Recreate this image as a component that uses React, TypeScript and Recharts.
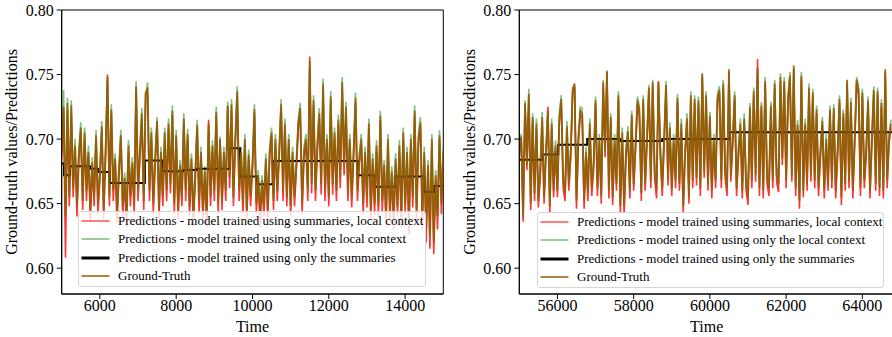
import React from 'react';
import { LineChart, Line, XAxis, YAxis, Legend, ReferenceArea } from 'recharts';

const FONT = '"Liberation Serif", "Times New Roman", Times, serif';

// ---------- data ----------
const LEFT_START = 5000;
const RIGHT_START = 55000;
const TIME_STEP = 50;

const leftGroundTruth = [
  0.690, 0.725, 0.640, 0.728, 0.655, 0.726, 0.662, 0.695, 0.648, 0.688,
  0.709, 0.652, 0.705, 0.660, 0.690, 0.645, 0.682, 0.655, 0.703, 0.650,
  0.672, 0.710, 0.645, 0.690, 0.748, 0.655, 0.723, 0.660, 0.685, 0.642,
  0.675, 0.703, 0.648, 0.670, 0.640, 0.695, 0.655, 0.682, 0.650, 0.741,
  0.660, 0.690, 0.720, 0.652, 0.735, 0.740, 0.660, 0.705, 0.650, 0.685,
  0.713, 0.645, 0.690, 0.655, 0.705, 0.660, 0.712, 0.665, 0.722, 0.650,
  0.703, 0.645, 0.680, 0.655, 0.716, 0.660, 0.704, 0.648, 0.685, 0.640,
  0.672, 0.711, 0.650, 0.690, 0.645, 0.675, 0.640, 0.712, 0.655, 0.695,
  0.660, 0.721, 0.650, 0.698, 0.652, 0.690, 0.660, 0.725, 0.670, 0.727,
  0.655, 0.700, 0.737, 0.660, 0.690, 0.650, 0.700, 0.645, 0.688, 0.655,
  0.680, 0.723, 0.650, 0.672, 0.640, 0.668, 0.648, 0.685, 0.645, 0.690,
  0.705, 0.652, 0.700, 0.660, 0.690, 0.727, 0.660, 0.712, 0.655, 0.700,
  0.648, 0.690, 0.655, 0.680, 0.712, 0.724, 0.650, 0.690, 0.700, 0.660,
  0.760, 0.665, 0.730, 0.660, 0.695, 0.720, 0.665, 0.743, 0.660, 0.700,
  0.655, 0.733, 0.665, 0.705, 0.660, 0.715, 0.670, 0.744, 0.680, 0.725,
  0.660, 0.700, 0.655, 0.690, 0.732, 0.660, 0.685, 0.700, 0.650, 0.690,
  0.655, 0.712, 0.645, 0.685, 0.650, 0.695, 0.648, 0.718, 0.652, 0.680,
  0.640, 0.700, 0.645, 0.675, 0.638, 0.685, 0.648, 0.695, 0.640, 0.705,
  0.650, 0.690, 0.635, 0.700, 0.655, 0.722, 0.645, 0.700, 0.713, 0.640,
  0.690, 0.630, 0.680, 0.625, 0.700, 0.620, 0.672, 0.640, 0.703, 0.650,
  0.690,
];

const leftSummariesLocal = [
  0.686, 0.720, 0.608, 0.722, 0.648, 0.720, 0.655, 0.692, 0.640, 0.684,
  0.705, 0.645, 0.700, 0.652, 0.688, 0.636, 0.678, 0.648, 0.700, 0.642,
  0.668, 0.706, 0.638, 0.686, 0.750, 0.648, 0.720, 0.652, 0.682, 0.635,
  0.670, 0.700, 0.640, 0.666, 0.632, 0.690, 0.648, 0.678, 0.642, 0.738,
  0.652, 0.686, 0.716, 0.645, 0.736, 0.735, 0.652, 0.700, 0.642, 0.680,
  0.714, 0.638, 0.686, 0.648, 0.700, 0.652, 0.708, 0.658, 0.718, 0.642,
  0.700, 0.638, 0.676, 0.648, 0.712, 0.652, 0.700, 0.640, 0.680, 0.632,
  0.668, 0.708, 0.642, 0.686, 0.638, 0.670, 0.632, 0.715, 0.648, 0.690,
  0.652, 0.718, 0.642, 0.700, 0.645, 0.686, 0.652, 0.726, 0.662, 0.722,
  0.648, 0.696, 0.733, 0.652, 0.686, 0.642, 0.696, 0.637, 0.684, 0.648,
  0.676, 0.720, 0.642, 0.668, 0.632, 0.664, 0.640, 0.680, 0.637, 0.686,
  0.702, 0.645, 0.696, 0.652, 0.686, 0.724, 0.652, 0.708, 0.648, 0.696,
  0.640, 0.686, 0.648, 0.676, 0.708, 0.720, 0.642, 0.686, 0.696, 0.652,
  0.764, 0.658, 0.726, 0.652, 0.690, 0.716, 0.657, 0.738, 0.652, 0.696,
  0.648, 0.730, 0.657, 0.700, 0.652, 0.712, 0.662, 0.740, 0.672, 0.720,
  0.652, 0.696, 0.647, 0.686, 0.728, 0.652, 0.680, 0.696, 0.642, 0.686,
  0.647, 0.708, 0.637, 0.680, 0.642, 0.690, 0.640, 0.714, 0.644, 0.676,
  0.632, 0.696, 0.637, 0.670, 0.630, 0.680, 0.640, 0.690, 0.632, 0.700,
  0.642, 0.686, 0.626, 0.696, 0.647, 0.718, 0.636, 0.696, 0.710, 0.630,
  0.686, 0.620, 0.676, 0.615, 0.696, 0.611, 0.668, 0.630, 0.700, 0.642,
  0.686,
];

const leftLocalOnly = [
  0.694, 0.738, 0.650, 0.732, 0.660, 0.730, 0.668, 0.700, 0.654, 0.692,
  0.713, 0.658, 0.709, 0.665, 0.695, 0.650, 0.686, 0.660, 0.707, 0.656,
  0.676, 0.714, 0.650, 0.694, 0.746, 0.660, 0.727, 0.665, 0.689, 0.648,
  0.680, 0.707, 0.653, 0.674, 0.646, 0.699, 0.660, 0.686, 0.656, 0.745,
  0.665, 0.694, 0.724, 0.657, 0.732, 0.744, 0.665, 0.709, 0.655, 0.689,
  0.717, 0.650, 0.694, 0.660, 0.709, 0.665, 0.716, 0.670, 0.726, 0.655,
  0.707, 0.650, 0.684, 0.660, 0.720, 0.665, 0.708, 0.653, 0.689, 0.646,
  0.676, 0.715, 0.656, 0.694, 0.650, 0.679, 0.646, 0.710, 0.660, 0.699,
  0.665, 0.725, 0.655, 0.702, 0.657, 0.694, 0.665, 0.729, 0.675, 0.731,
  0.660, 0.704, 0.741, 0.665, 0.694, 0.656, 0.704, 0.650, 0.692, 0.660,
  0.684, 0.727, 0.656, 0.676, 0.645, 0.672, 0.653, 0.689, 0.650, 0.694,
  0.709, 0.657, 0.704, 0.665, 0.694, 0.731, 0.665, 0.716, 0.660, 0.704,
  0.653, 0.694, 0.660, 0.684, 0.716, 0.728, 0.656, 0.694, 0.704, 0.665,
  0.756, 0.670, 0.734, 0.665, 0.699, 0.724, 0.670, 0.747, 0.665, 0.704,
  0.660, 0.737, 0.670, 0.709, 0.665, 0.719, 0.675, 0.748, 0.685, 0.729,
  0.665, 0.704, 0.660, 0.694, 0.736, 0.665, 0.689, 0.704, 0.656, 0.694,
  0.660, 0.716, 0.650, 0.689, 0.656, 0.699, 0.653, 0.722, 0.657, 0.684,
  0.646, 0.704, 0.650, 0.679, 0.644, 0.689, 0.653, 0.699, 0.646, 0.709,
  0.655, 0.694, 0.641, 0.704, 0.660, 0.726, 0.650, 0.704, 0.717, 0.646,
  0.694, 0.636, 0.684, 0.631, 0.704, 0.626, 0.676, 0.646, 0.707, 0.656,
  0.694,
];

const leftSummariesStepTime = [5000, 5060, 5220, 5740, 5950, 6260, 7180, 7630, 8180, 8540, 9400, 9670, 10110, 10530, 12760, 13200, 13730, 14510, 14770, 15000];
const leftSummariesStepValue = [0.681, 0.672, 0.679, 0.677, 0.6745, 0.666, 0.6835, 0.675, 0.676, 0.677, 0.693, 0.671, 0.665, 0.683, 0.672, 0.663, 0.671, 0.659, 0.6636, 0.6636];

const rightGroundTruth = [
  0.690, 0.700, 0.640, 0.725, 0.680, 0.735, 0.650, 0.717, 0.658, 0.712,
  0.652, 0.675, 0.717, 0.655, 0.690, 0.722, 0.648, 0.712, 0.660, 0.695,
  0.660, 0.716, 0.731, 0.668, 0.658, 0.710, 0.665, 0.690, 0.739, 0.743,
  0.652, 0.700, 0.722, 0.720, 0.652, 0.690, 0.658, 0.712, 0.662, 0.680,
  0.730, 0.662, 0.700, 0.656, 0.744, 0.690, 0.753, 0.660, 0.717, 0.655,
  0.700, 0.665, 0.734, 0.648, 0.705, 0.648, 0.690, 0.706, 0.660, 0.719,
  0.665, 0.695, 0.730, 0.722, 0.658, 0.731, 0.665, 0.700, 0.740, 0.668,
  0.744, 0.675, 0.660, 0.744, 0.690, 0.662, 0.700, 0.742, 0.670, 0.709,
  0.662, 0.700, 0.668, 0.732, 0.665, 0.712, 0.648, 0.690, 0.716, 0.655,
  0.734, 0.668, 0.731, 0.670, 0.730, 0.662, 0.751, 0.675, 0.734, 0.665,
  0.718, 0.660, 0.700, 0.668, 0.732, 0.738, 0.668, 0.743, 0.675, 0.662,
  0.754, 0.672, 0.700, 0.734, 0.662, 0.690, 0.712, 0.660, 0.716, 0.665,
  0.655, 0.725, 0.668, 0.737, 0.672, 0.755, 0.662, 0.726, 0.660, 0.745,
  0.670, 0.662, 0.726, 0.668, 0.743, 0.672, 0.665, 0.748, 0.685, 0.745,
  0.668, 0.731, 0.749, 0.672, 0.757, 0.662, 0.711, 0.652, 0.749, 0.660,
  0.712, 0.665, 0.740, 0.672, 0.736, 0.668, 0.723, 0.662, 0.690, 0.714,
  0.660, 0.700, 0.665, 0.723, 0.668, 0.724, 0.660, 0.690, 0.731, 0.655,
  0.720, 0.665, 0.746, 0.668, 0.729, 0.660, 0.700, 0.746, 0.738, 0.662,
  0.736, 0.668, 0.690, 0.730, 0.660, 0.700, 0.738, 0.665, 0.737, 0.662,
  0.728, 0.660, 0.754, 0.668, 0.700, 0.712,
];

const rightSummariesLocal = [
  0.686, 0.702, 0.636, 0.728, 0.676, 0.730, 0.645, 0.714, 0.652, 0.708,
  0.647, 0.671, 0.713, 0.650, 0.686, 0.725, 0.643, 0.708, 0.655, 0.691,
  0.655, 0.712, 0.728, 0.662, 0.652, 0.706, 0.660, 0.686, 0.736, 0.740,
  0.646, 0.696, 0.719, 0.716, 0.646, 0.686, 0.652, 0.708, 0.656, 0.676,
  0.727, 0.656, 0.696, 0.650, 0.740, 0.686, 0.752, 0.654, 0.714, 0.649,
  0.696, 0.660, 0.731, 0.643, 0.701, 0.642, 0.686, 0.702, 0.654, 0.716,
  0.660, 0.691, 0.727, 0.718, 0.652, 0.728, 0.660, 0.696, 0.737, 0.662,
  0.741, 0.670, 0.654, 0.745, 0.686, 0.656, 0.696, 0.739, 0.664, 0.705,
  0.656, 0.696, 0.662, 0.729, 0.660, 0.708, 0.643, 0.686, 0.713, 0.650,
  0.731, 0.662, 0.728, 0.664, 0.727, 0.656, 0.749, 0.670, 0.731, 0.660,
  0.715, 0.654, 0.696, 0.662, 0.729, 0.735, 0.662, 0.740, 0.670, 0.656,
  0.752, 0.667, 0.696, 0.731, 0.656, 0.686, 0.708, 0.654, 0.713, 0.660,
  0.649, 0.722, 0.662, 0.734, 0.667, 0.762, 0.656, 0.723, 0.654, 0.742,
  0.665, 0.656, 0.723, 0.662, 0.740, 0.667, 0.659, 0.745, 0.680, 0.742,
  0.662, 0.728, 0.746, 0.667, 0.754, 0.656, 0.708, 0.646, 0.746, 0.655,
  0.709, 0.660, 0.737, 0.667, 0.733, 0.662, 0.720, 0.656, 0.686, 0.711,
  0.654, 0.696, 0.660, 0.720, 0.662, 0.721, 0.654, 0.686, 0.728, 0.649,
  0.717, 0.660, 0.743, 0.662, 0.726, 0.654, 0.696, 0.743, 0.735, 0.656,
  0.733, 0.662, 0.686, 0.727, 0.654, 0.696, 0.735, 0.660, 0.734, 0.656,
  0.725, 0.654, 0.752, 0.662, 0.696, 0.709,
];

const rightLocalOnly = [
  0.694, 0.704, 0.646, 0.730, 0.684, 0.739, 0.656, 0.720, 0.664, 0.716,
  0.658, 0.680, 0.721, 0.660, 0.694, 0.720, 0.654, 0.716, 0.665, 0.699,
  0.666, 0.720, 0.734, 0.673, 0.664, 0.714, 0.670, 0.694, 0.737, 0.741,
  0.658, 0.704, 0.725, 0.724, 0.658, 0.694, 0.664, 0.716, 0.668, 0.684,
  0.733, 0.668, 0.704, 0.662, 0.746, 0.694, 0.750, 0.666, 0.720, 0.661,
  0.704, 0.670, 0.737, 0.654, 0.709, 0.654, 0.694, 0.710, 0.666, 0.722,
  0.670, 0.699, 0.733, 0.725, 0.664, 0.734, 0.670, 0.704, 0.742, 0.674,
  0.746, 0.680, 0.666, 0.742, 0.694, 0.668, 0.704, 0.745, 0.676, 0.713,
  0.668, 0.704, 0.674, 0.735, 0.670, 0.716, 0.654, 0.694, 0.720, 0.661,
  0.737, 0.674, 0.734, 0.676, 0.733, 0.668, 0.748, 0.680, 0.737, 0.671,
  0.721, 0.666, 0.704, 0.674, 0.735, 0.741, 0.674, 0.746, 0.680, 0.668,
  0.750, 0.678, 0.704, 0.737, 0.668, 0.694, 0.716, 0.666, 0.720, 0.671,
  0.661, 0.728, 0.674, 0.740, 0.678, 0.752, 0.668, 0.729, 0.666, 0.748,
  0.676, 0.668, 0.729, 0.674, 0.746, 0.678, 0.671, 0.751, 0.690, 0.748,
  0.674, 0.734, 0.752, 0.678, 0.755, 0.668, 0.715, 0.658, 0.752, 0.666,
  0.716, 0.671, 0.743, 0.678, 0.739, 0.674, 0.726, 0.668, 0.694, 0.717,
  0.666, 0.704, 0.671, 0.726, 0.674, 0.727, 0.666, 0.694, 0.734, 0.661,
  0.723, 0.671, 0.744, 0.674, 0.732, 0.666, 0.704, 0.748, 0.741, 0.668,
  0.739, 0.674, 0.694, 0.733, 0.666, 0.704, 0.741, 0.671, 0.740, 0.668,
  0.731, 0.666, 0.751, 0.674, 0.704, 0.715,
];

const rightSummariesStepTime = [55000, 55620, 56020, 56780, 57640, 58750, 60530, 64830];
const rightSummariesStepValue = [0.684, 0.688, 0.6957, 0.700, 0.6985, 0.700, 0.7053, 0.7053];

const LEFT_X_TICKS = [6000, 8000, 10000, 12000, 14000];
const RIGHT_X_TICKS = [56000, 58000, 60000, 62000, 64000];
const Y_TICKS = [0.6, 0.65, 0.7, 0.75, 0.8];
const Y_DOMAIN: [number, number] = [0.58, 0.8];

const SERIES_LABELS = [
  'Predictions - model trained using summaries, local context',
  'Predictions - model trained using only the local context',
  'Predictions - model trained using only the summaries',
  'Ground-Truth',
];
const X_LABEL = 'Time';
const Y_LABEL = 'Ground-truth values/Predictions';

// ---------- styles ----------
const RED = '#ff0000';
const GREEN = '#008000';
const BROWN = '#965e05';
const LEGEND_STYLES = [
  { color: '#ff3333', opacity: 0.85, w: 1.5 },
  { color: '#4ca64c', opacity: 0.75, w: 1.5 },
  { color: '#000000', opacity: 1, w: 3 },
  { color: BROWN, opacity: 1, w: 1.5 },
];

function buildSeries(start: number, gt: number[], red: number[], green: number[]) {
  return gt.map((v, i) => ({ t: start + i * TIME_STEP, gt: v, red: red[i], green: green[i] }));
}
function buildStep(ts: number[], vs: number[]) {
  return ts.map((t, i) => ({ t, v: vs[i] }));
}

const leftData = buildSeries(LEFT_START, leftGroundTruth, leftSummariesLocal, leftLocalOnly);
const rightData = buildSeries(RIGHT_START, rightGroundTruth, rightSummariesLocal, rightLocalOnly);
const leftStep = buildStep(leftSummariesStepTime, leftSummariesStepValue);
const rightStep = buildStep(rightSummariesStepTime, rightSummariesStepValue);

const ROW_Y = [10, 28, 47, 65];

const LegendBox = () => (
  <div
    style={{
      width: '100%',
      height: '100%',
      boxSizing: 'border-box',
      background: 'rgba(255,255,255,0.8)',
      border: '1px solid #d6d6d6',
      borderRadius: 3,
      position: 'relative',
      fontFamily: FONT,
      fontSize: 13,
      color: '#000',
    }}
  >
    <svg width={36} height={76} style={{ position: 'absolute', left: 0, top: -1 }}>
      {SERIES_LABELS.map((_, k) => (
        <line
          key={k}
          x1={2.5}
          x2={30.5}
          y1={ROW_Y[k]}
          y2={ROW_Y[k]}
          stroke={LEGEND_STYLES[k].color}
          strokeOpacity={LEGEND_STYLES[k].opacity}
          strokeWidth={LEGEND_STYLES[k].w}
        />
      ))}
    </svg>
    {SERIES_LABELS.map((label, k) => (
      <div
        key={k}
        style={{
          position: 'absolute',
          left: 39,
          top: ROW_Y[k] - 10,
          height: 18,
          lineHeight: '18px',
          whiteSpace: 'nowrap',
        }}
      >
        {label}
      </div>
    ))}
  </div>
);

type PanelProps = {
  left: number;
  width: number;
  marginLeft: number;
  marginRight: number;
  data: any[];
  step: any[];
  domain: [number, number];
  ticks: number[];
  legendLeft: number;
  legendTop: number;
  legendWidth: number;
};

function Panel(p: PanelProps) {
  const tickStyle = { fill: '#000', fontSize: 16, fontFamily: FONT };
  return (
    <div style={{ position: 'absolute', left: p.left, top: 0 }}>
      <LineChart
        width={p.width}
        height={337}
        data={p.data}
        margin={{ top: 10, right: p.marginRight, bottom: 0, left: p.marginLeft }}
      >
        <XAxis
          dataKey="t"
          type="number"
          domain={p.domain}
          ticks={p.ticks}
          allowDataOverflow
          interval={0}
          height={43}
          tick={tickStyle}
          tickLine={{ stroke: '#000' }}
          axisLine={{ stroke: '#000' }}
          tickSize={5}
          tickMargin={1}
          label={{ value: X_LABEL, position: 'insideBottom', offset: 5, fill: '#000', fontSize: 16, fontFamily: FONT }}
        />
        <YAxis
          type="number"
          domain={Y_DOMAIN}
          ticks={Y_TICKS}
          allowDataOverflow
          interval={0}
          width={50}
          tick={tickStyle}
          tickLine={{ stroke: '#000' }}
          axisLine={{ stroke: '#000' }}
          tickSize={5}
          tickMargin={3}
          tickFormatter={(v: number) => v.toFixed(2)}
          label={{
            value: Y_LABEL,
            angle: -90,
            position: 'insideLeft',
            offset: 0,
            fill: '#000',
            fontSize: 16,
            fontFamily: FONT,
            style: { textAnchor: 'middle' },
          }}
        />
        <ReferenceArea
          x1={p.domain[0]}
          x2={p.domain[1]}
          y1={Y_DOMAIN[0]}
          y2={Y_DOMAIN[1]}
          fill="none"
          fillOpacity={0}
          stroke="#000"
          strokeWidth={1}
        />
        <Line dataKey="red" type="linear" stroke={RED} strokeOpacity={0.8} strokeWidth={1.6} dot={false} activeDot={false} isAnimationActive={false} />
        <Line dataKey="green" type="linear" stroke={GREEN} strokeOpacity={0.5} strokeWidth={1.6} dot={false} activeDot={false} isAnimationActive={false} />
        <Line data={p.step} dataKey="v" type="stepAfter" stroke="#000" strokeWidth={2} dot={false} activeDot={false} isAnimationActive={false} />
        <Line dataKey="gt" type="linear" stroke={BROWN} strokeOpacity={0.92} strokeWidth={1.8} dot={false} activeDot={false} isAnimationActive={false} />
        <Legend
          content={() => <LegendBox />}
          layout="horizontal"
          verticalAlign="middle"
          align="center"
          wrapperStyle={{ position: 'absolute', left: p.legendLeft, top: p.legendTop, width: p.legendWidth, height: 76 }}
        />
      </LineChart>
    </div>
  );
}

export default function App() {
  return (
    <div
      style={{
        position: 'absolute',
        left: 0,
        top: 0,
        width: 892,
        height: 337,
        overflow: 'hidden',
        background: '#fff',
        fontFamily: FONT,
      }}
    >
      <Panel
        left={0}
        width={460}
        marginLeft={11.7}
        marginRight={16.7}
        data={leftData}
        step={leftStep}
        domain={[5000, 15000]}
        ticks={LEFT_X_TICKS}
        legendLeft={78}
        legendTop={211}
        legendWidth={348}
      />
      <Panel
        left={460}
        width={434}
        marginLeft={9.3}
        marginRight={0}
        data={rightData}
        step={rightStep}
        domain={[55000, 64830]}
        ticks={RIGHT_X_TICKS}
        legendLeft={77}
        legendTop={212}
        legendWidth={347}
      />
    </div>
  );
}
